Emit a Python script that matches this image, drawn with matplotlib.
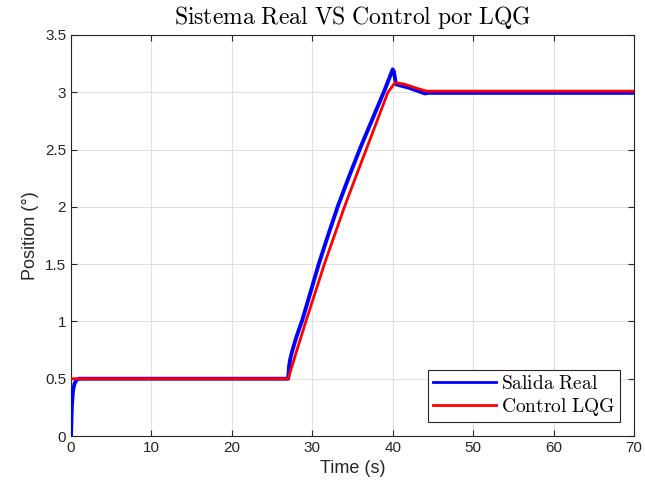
import matplotlib
matplotlib.use("Agg")
import matplotlib.pyplot as plt

plt.rcParams['mathtext.fontset'] = 'cm'
plt.rcParams['font.family'] = ['Liberation Sans', 'DejaVu Sans']

t_real = [0, 0.1, 0.25, 0.45, 0.7, 1.0, 27.0, 27.1, 27.25, 27.5, 28.0, 28.75, 29.8, 30.8, 32.0, 33.2, 34.6, 36.0, 37.5, 39.0, 40.0, 40.15, 40.4, 42.0, 44.0, 44.5, 70.0]
y_real = [0, 0.25, 0.40, 0.46, 0.49, 0.50, 0.50, 0.60, 0.67, 0.74, 0.86, 1.01, 1.26, 1.50, 1.76, 2.01, 2.27, 2.52, 2.77, 3.02, 3.20, 3.18, 3.07, 3.04, 2.99, 2.995, 2.995]

t_lqg = [0, 27.0, 28.0, 29.2, 30.4, 31.5, 32.8, 34.0, 35.4, 36.7, 38.0, 39.4, 40.3, 41.5, 43.0, 44.2, 70.0]
y_lqg = [0.50, 0.50, 0.73, 1.00, 1.26, 1.50, 1.76, 2.00, 2.26, 2.50, 2.74, 3.00, 3.085, 3.07, 3.035, 3.01, 3.01]

fig = plt.figure(figsize=(6.45, 4.92), dpi=100)
ax = fig.add_axes([71/645, 1 - 436/492, 563/645, 401/492])

ax.plot(t_real, y_real, color='#0000ff', lw=2.8, label='Salida Real', zorder=3)
ax.plot(t_lqg, y_lqg, color='#ff0000', lw=2.0, label='Control LQG', zorder=4)

ax.set_xlim(0, 70)
ax.set_ylim(0, 3.5)
ax.set_xticks(range(0, 71, 10))
ax.set_yticks([0, 0.5, 1, 1.5, 2, 2.5, 3, 3.5])
ax.set_yticklabels(['0', '0.5', '1', '1.5', '2', '2.5', '3', '3.5'])
ax.grid(True, color='#e0e0e0', lw=0.8)
ax.set_axisbelow(True)
ax.tick_params(direction='in', top=True, right=True, labelsize=11, colors='#262626', length=4)
for s in ax.spines.values():
    s.set_color('#262626')
    s.set_linewidth(0.8)

ax.set_xlabel('Time (s)', fontsize=13, color='#262626')
ax.set_ylabel('Position (°)', fontsize=13, color='#262626')
ax.set_title(r'$\mathrm{Sistema\ Real\ VS\ Control\ por\ LQG}$', fontsize=17, pad=8)

leg = ax.legend(loc='lower right', prop={'size': 14}, fancybox=False,
                edgecolor='#262626', framealpha=1, borderpad=0.25, handlelength=3.2,
                handletextpad=0.3, labelspacing=0.15, borderaxespad=0.7)
leg.get_frame().set_linewidth(0.8)
for txt in leg.get_texts():
    txt.set_text(r'$\mathrm{' + txt.get_text().replace(' ', r'\ ') + '}$')
for h in leg.get_lines():
    h.set_linewidth(2.0)

fig.savefig('out.png', dpi=100)
